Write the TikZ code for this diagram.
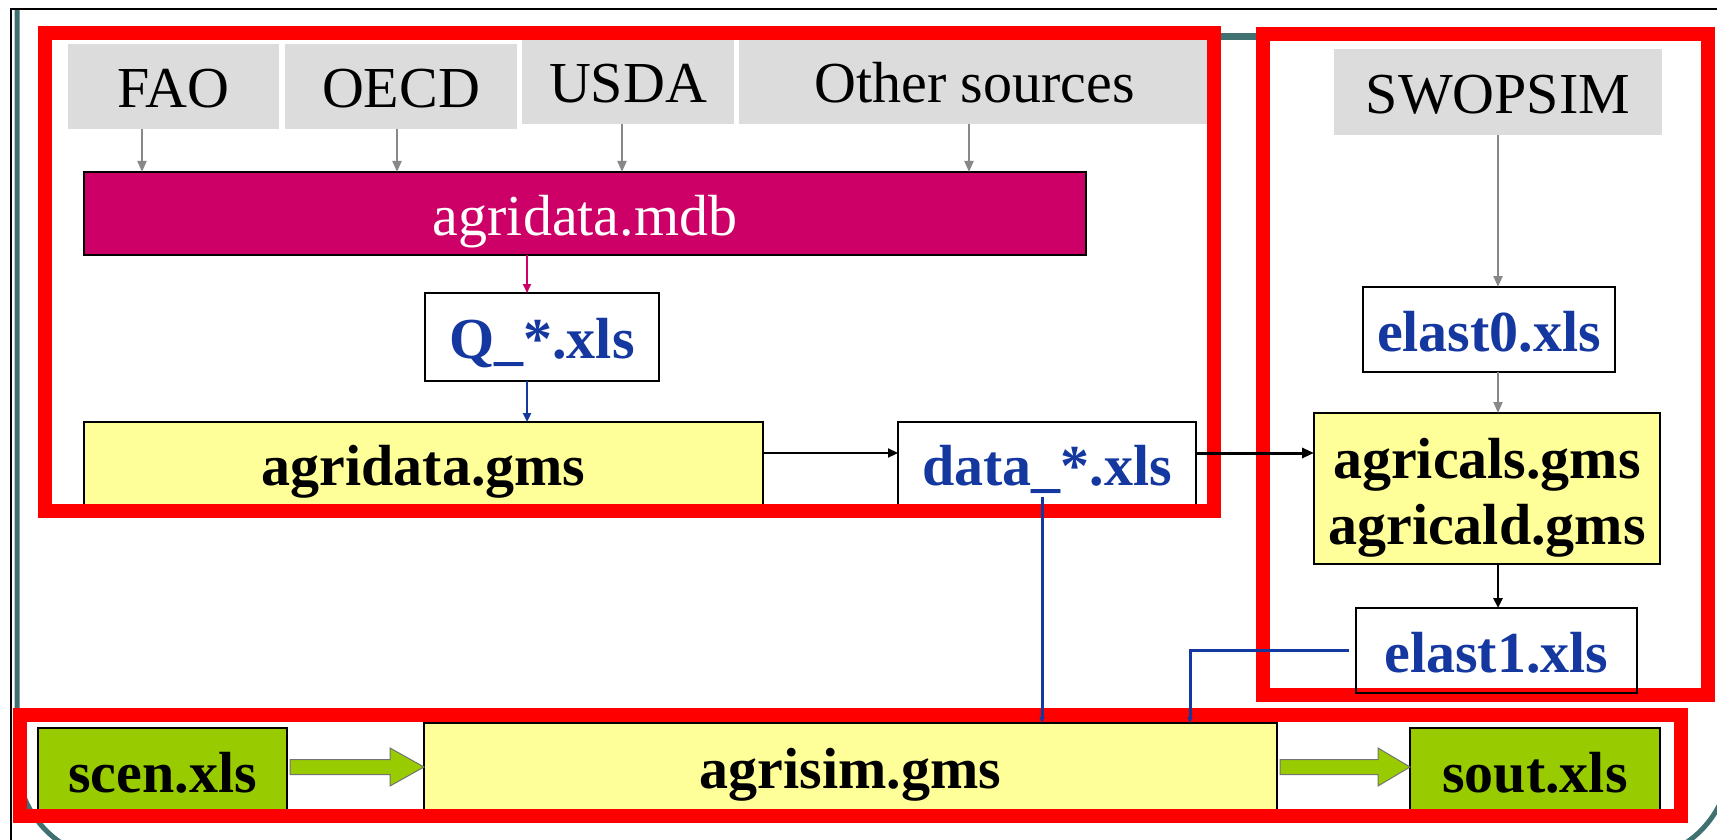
\documentclass[tikz,border=0pt]{standalone}
\usepackage{fontspec}
\setmainfont{Liberation Serif}
\usetikzlibrary{arrows.meta,calc}
\definecolor{redf}{RGB}{255,0,0}
\definecolor{srcgray}{RGB}{220,220,220}
\definecolor{mdbc}{RGB}{204,0,102}
\definecolor{yel}{RGB}{255,255,153}
\definecolor{grn}{RGB}{153,204,0}
\definecolor{fblue}{RGB}{20,55,160}
\definecolor{teal}{RGB}{64,112,112}
\definecolor{arrgray}{RGB}{136,136,136}
\begin{document}
\begin{tikzpicture}[x=1pt,y=-1pt,
  every node/.style={inner sep=0pt, outer sep=0pt, font=\fontsize{58}{64}\selectfont, text height=43pt, text depth=0pt},
  src/.style={fill=srcgray},
  fbox/.style={draw=black, line width=2pt, fill=white, text=fblue, font=\fontsize{58}{64}\selectfont\bfseries},
  ybox/.style={draw=black, line width=2pt, fill=yel, font=\fontsize{58}{64}\selectfont\bfseries},
  gbox/.style={draw=black, line width=2pt, fill=grn, font=\fontsize{58}{64}\selectfont\bfseries},
  redframe/.style={draw=redf, line width=14pt, line join=miter},
  garrow/.style={draw=arrgray, line width=2pt, -{Triangle[length=11pt,width=9pt]}},
  parrow/.style={draw=mdbc, line width=2pt, -{Triangle[length=9pt,width=8pt]}},
  barrow/.style={draw=fblue, line width=2.6pt, -{Triangle[length=9pt,width=8pt]}},
  blline/.style={draw=fblue, line width=3pt, -{Triangle[length=6pt,width=5pt]}},
  karrow/.style={draw=black, line width=2.2pt, -{Triangle[length=10pt,width=9pt]}},
  kkarrow/.style={draw=black, line width=3pt, -{Triangle[length=12pt,width=10pt]}},
  blockarr/.style={fill=grn, draw=black!55, line width=1pt, line join=miter},
]
\useasboundingbox (0,0) rectangle (1717,840);
\fill[white] (0,0) rectangle (1717,840);
% slide frame
\draw[teal, line width=5pt] (17,9) -- (17,760) arc[start angle=180, end angle=270, radius=100pt] -- (1630,860) arc[start angle=270, end angle=360, radius=100pt] -- (1730,9);
\draw[teal, line width=7pt] (1214,37) -- (1263,37);
\draw[black, line width=2pt] (11,841) -- (11,9) -- (1718,9);

% source boxes
\node[src, minimum width=211, minimum height=85] (fao) at (173.5,86.5) {FAO};
\node[src, minimum width=232, minimum height=85] (oecd) at (401,86.5) {OECD};
\node[src, minimum width=212, minimum height=86] (usda) at (628,81) {USDA};
\node[src, minimum width=471, minimum height=86] (other) at (974.5,81) {Other sources};
\node[src, minimum width=328, minimum height=86] (swop) at (1498,92) {SWOPSIM};

% main boxes
\node[draw=black, line width=2pt, fill=mdbc, text=white, minimum width=1002, minimum height=83] (mdb) at (585,213.5) {agridata.mdb};
\node[fbox, minimum width=234, minimum height=88] (q) at (542,337) {Q\_*.xls};
\node[ybox, minimum width=679, minimum height=84] (gms) at (423.5,464) {agridata.gms};
\node[fbox, minimum width=298, minimum height=84] (data) at (1047,464) {data\_*.xls};
\node[fbox, minimum width=252, minimum height=85] (e0) at (1489,329.5) {elast0.xls};
\node[ybox, minimum width=346, minimum height=151, align=center, text height=111pt, text depth=0pt, font=\fontsize{58}{66}\selectfont\bfseries] (agc) at (1487,488.5) {agricals.gms\\agricald.gms};
\node[fbox, minimum width=281, minimum height=85] (e1) at (1496.5,650.5) {elast1.xls};
\node[gbox, minimum width=249, minimum height=86] (scen) at (162.5,771) {scen.xls};
\node[ybox, minimum width=853, minimum height=87] (sim) at (850.5,766.5) {agrisim.gms};
\node[gbox, minimum width=250, minimum height=86] (sout) at (1535,771) {sout.xls};

% red frames
\draw[redframe] (45,33) rectangle (1214,511);
\draw[redframe] (1263,34) rectangle (1708,695);
\draw[redframe] (20,715) rectangle (1681,816);
\draw[black, line width=2pt] (e1.south west) rectangle (e1.north east);

% helper coordinates
\coordinate (xfao) at (142,0);
\coordinate (xoecd) at (397,0);
\coordinate (xusda) at (622,0);
\coordinate (xoth) at (969,0);
\coordinate (xq) at (527,0);
\coordinate (xsw) at (1498,0);
\coordinate (yrow) at (0,453);
\coordinate (dstart) at (1042,497);
\coordinate (xe) at (1190,0);

% connectors
\draw[garrow] (xfao |- fao.south) -- (xfao |- mdb.north);
\draw[garrow] (xoecd |- oecd.south) -- (xoecd |- mdb.north);
\draw[garrow] (xusda |- usda.south) -- (xusda |- mdb.north);
\draw[garrow] (xoth |- other.south) -- (xoth |- mdb.north);
\draw[parrow] (xq |- mdb.south) -- (xq |- q.north);
\draw[barrow] (xq |- q.south) -- (xq |- gms.north);
\draw[karrow] (gms.east |- yrow) -- (data.west |- yrow);
\draw[kkarrow] (data.east |- yrow) -- (agc.west |- yrow);
\draw[garrow] (xsw |- swop.south) -- (xsw |- e0.north);
\draw[garrow] (xsw |- e0.south) -- (xsw |- agc.north);
\draw[karrow, line width=2.6pt] (xsw |- agc.south) -- (xsw |- e1.north);
\draw[blline] (dstart) -- (dstart |- sim.north);
\draw[blline] ([xshift=-7pt]e1.west) -| (xe |- sim.north);

% block arrows
\draw[blockarr] let \p1=(scen.east), \p2=(sim.west) in
  (\x1+3pt,\y1+11.5pt) -- (\x2-34pt,\y1+11.5pt) -- (\x2-34pt,\y1+23pt) -- (\x2,\y1+4pt)
  -- (\x2-34pt,\y1-15pt) -- (\x2-34pt,\y1-3.5pt) -- (\x1+3pt,\y1-3.5pt) -- cycle;
\draw[blockarr] let \p1=(sim.east), \p2=(sout.west) in
  (\x1+3pt,\y2+11.5pt) -- (\x2-32pt,\y2+11.5pt) -- (\x2-32pt,\y2+23pt) -- (\x2,\y2+4pt)
  -- (\x2-32pt,\y2-15pt) -- (\x2-32pt,\y2-3.5pt) -- (\x1+3pt,\y2-3.5pt) -- cycle;
\end{tikzpicture}
\end{document}
